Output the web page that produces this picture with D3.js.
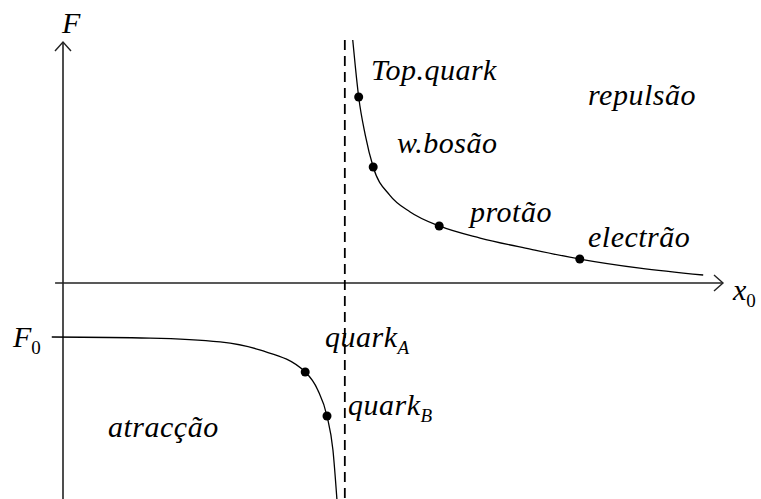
<!DOCTYPE html>
<html>
<head>
<meta charset="utf-8">
<script src="https://cdn.jsdelivr.net/npm/d3@7"></script>
<style>
  body { margin: 0; background: #fff; }
</style>
</head>
<body>
<div id="wrapper"></div>
<script>
// repulsion branch (right of the asymptote)
const upperX = [43.9, 44.3, 44.8, 45.8, 47.0, 49.5, 52.6, 57.0, 63.2, 70.8, 78.3, 87.4, 97.0];
const upperF = [112.5, 100, 86.1, 68.5, 53.7, 40.7, 32.9, 26.4, 20.8, 15.7, 11.1, 6.9, 3.7];

// attraction branch (left of the asymptote)
const lowerX = [-1.7, 13.2, 23.8, 29.8, 36.7, 38.6, 40.0, 40.9, 41.5];
const lowerF = [-25.0, -25.5, -27.3, -31.0, -41.2, -49.5, -61.6, -77.3, -100];

// particles marked on the curves
const particles = ["Top.quark", "w.bosão", "protão", "electrão", "quarkA", "quarkB"];
const particleX = [44.8, 47.0, 57.0, 78.3, 36.7, 40.0];
const particleF = [86.1, 53.7, 26.4, 11.1, -41.2, -61.6];

const asymptoteX = 42.7;

const width = 761, height = 499;

const svg = d3.select('#wrapper')
    .append('svg')
    .attr('width', width)
    .attr('height', height);

const xScale = d3.scaleLinear().domain([0, 100]).range([63, 723]);
const yScale = d3.scaleLinear().domain([-100, 100]).range([499, 67]);

const upper = upperX.map((x, i) => ({x, f: upperF[i]}));
const lower = lowerX.map((x, i) => ({x, f: lowerF[i]}));

const lineGen = d3.line()
    .x(d => xScale(d.x))
    .y(d => yScale(d.f))
    .curve(d3.curveMonotoneX);

// axes
const axisColor = '#222';
const x0 = xScale(0), y0 = yScale(0);
const xEnd = xScale(100), yTop = yScale(111.6);

svg.append('line')
    .attr('x1', xScale(-1.2)).attr('x2', xEnd)
    .attr('y1', y0).attr('y2', y0)
    .attr('stroke', axisColor).attr('stroke-width', 1.6);
svg.append('path')
    .attr('d', `M${xEnd - 9},${y0 - 8}L${xEnd},${y0}L${xEnd - 9},${y0 + 8}`)
    .attr('fill', 'none').attr('stroke', axisColor).attr('stroke-width', 1.4);

svg.append('line')
    .attr('x1', x0).attr('x2', x0)
    .attr('y1', yScale(-100)).attr('y2', yTop)
    .attr('stroke', axisColor).attr('stroke-width', 1.6);
svg.append('path')
    .attr('d', `M${x0 - 8},${yTop + 9}L${x0},${yTop}L${x0 + 8},${yTop + 9}`)
    .attr('fill', 'none').attr('stroke', axisColor).attr('stroke-width', 1.4);

// asymptote
svg.append('line')
    .attr('x1', xScale(asymptoteX)).attr('x2', xScale(asymptoteX))
    .attr('y1', yScale(112.5)).attr('y2', yScale(-100))
    .attr('stroke', '#000').attr('stroke-width', 1.8)
    .attr('stroke-dasharray', '10,6');

// curves
[upper, lower].forEach(data => {
    svg.append('path')
        .attr('d', lineGen(data))
        .attr('fill', 'none')
        .attr('stroke', '#000')
        .attr('stroke-width', 1.3);
});

svg.selectAll('circle.pt')
    .data(particles)
    .join('circle')
    .attr('class', 'pt')
    .attr('cx', (d, i) => xScale(particleX[i]))
    .attr('cy', (d, i) => yScale(particleF[i]))
    .attr('r', 4.5)
    .attr('fill', '#000');

// labels
const fs = 30, sub = 19;
function label(txt, x, y, subTxt, subItalic) {
    const t = svg.append('text')
        .attr('x', x).attr('y', y)
        .attr('font-family', 'Liberation Serif')
        .attr('font-style', 'italic')
        .attr('font-size', fs)
        .attr('letter-spacing', txt.length > 2 ? 0.5 : 0)
        .attr('fill', '#000')
        .text(txt);
    if (subTxt) {
        t.append('tspan')
            .attr('dy', 7)
            .attr('font-size', sub)
            .attr('font-style', subItalic ? 'italic' : 'normal')
            .text(subTxt);
    }
}

label('F', 62, 33);
label('x', 733, 300, '0', false);
label('F', 13, 347, '0', false);
label('Top.quark', 371, 80);
label('w.bosão', 397, 153);
label('protão', 470, 222);
label('electrão', 588, 247);
label('repulsão', 588, 105);
label('quark', 325, 347, 'A', true);
label('quark', 348, 415, 'B', true);
label('atracção', 108, 437);
</script>
</body>
</html>
